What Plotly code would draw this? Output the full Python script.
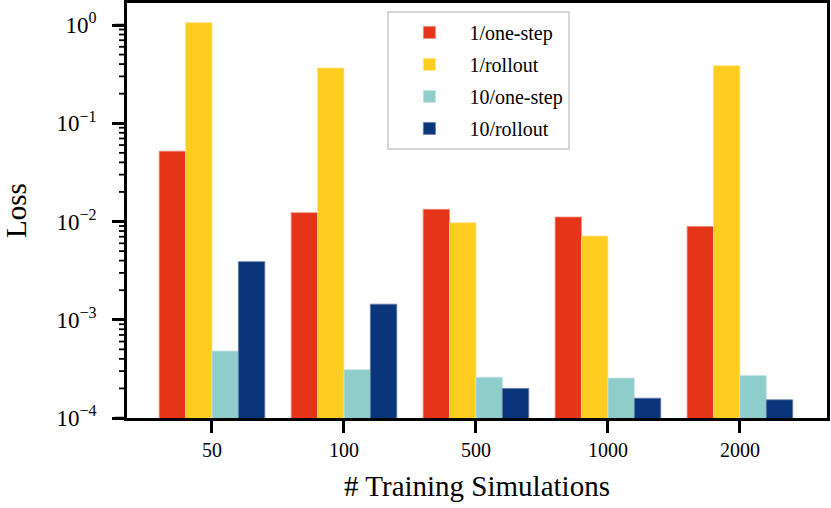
import plotly.graph_objs as go

# number of training simulations
sims = ["50", "100", "500", "1000", "2000"]

# loss values
one_step_1 = [0.052, 0.0123, 0.0133, 0.0111, 0.0089]
rollout_1 = [1.055, 0.365, 0.0097, 0.0071, 0.385]
one_step_10 = [0.00048, 0.00031, 0.00026, 0.000255, 0.00027]
rollout_10 = [0.0039, 0.00144, 0.0002, 0.000159, 0.000153]

series = [
  ("1/one-step", one_step_1, "#E5341A", "#F08A78"),
  ("1/rollout", rollout_1, "#FFCD1F", "#FFE27A"),
  ("10/one-step", one_step_10, "#8ECDCA", "#C3E5E3"),
  ("10/rollout", rollout_10, "#0A357A", "#5F7BA8"),
]

major = [1e-4, 1e-3, 1e-2, 1e-1, 1]
major_text = ["10<sup>\u22124</sup>", "10<sup>\u22123</sup>", "10<sup>\u22122</sup>",
              "10<sup>\u22121</sup>", "10<sup>0</sup>"]
minor = [m * d for d in major[:-1] for m in range(2, 10)]

fig = go.Figure()
for name, vals, color, edge in series:
  fig.add_trace(go.Bar(x=sims, y=vals, name=name, legendgroup=name,
                       marker=dict(color=color, line=dict(color=edge, width=0.8))))

# log tick marks on the left spine (major long, minor short), placed on the y axis
for vals, length, width in [(major, 12, 2.5), (minor, 8, 1.8)]:
  for v in vals:
    fig.add_shape(type="line", xref="paper", yref="y", xsizemode="pixel", xanchor=0,
                  x0=-length, x1=0, y0=v, y1=v, layer="above",
                  line=dict(color="black", width=width))

font = "Liberation Serif, Times New Roman, serif"
fig.update_layout(
  width=831, height=508,
  margin=dict(l=127, r=4, t=3, b=90),
  paper_bgcolor="white", plot_bgcolor="white",
  font=dict(family=font, size=20, color="black"),
  barmode="group", bargap=0.2, bargroupgap=0,
  showlegend=True,
  legend=dict(x=0.372, y=0.981, xanchor="left", yanchor="top",
              bgcolor="white", bordercolor="#d6d6d6", borderwidth=2,
              font=dict(size=20), tracegroupgap=3, itemwidth=70),
  xaxis=dict(
    type="category", range=[-0.644, 4.66], automargin=False,
    showline=True, linecolor="black", linewidth=2.5, mirror=True,
    ticks="outside", ticklen=12, tickwidth=2.5, tickcolor="black",
    tickfont=dict(size=20), showgrid=False, zeroline=False,
    title=dict(text="# Training Simulations", font=dict(size=29), standoff=16),
  ),
  yaxis=dict(
    type="log", range=[-4, 0.224], automargin=False,
    showline=True, linecolor="black", linewidth=2.5, mirror=True,
    tickmode="array", tickvals=major, ticktext=major_text,
    ticks="outside", ticklen=12, tickwidth=2.5, tickcolor="black",
    tickfont=dict(size=23), ticklabelstandoff=11, showgrid=False, zeroline=False,
    title=dict(text="Loss", font=dict(size=29), standoff=22),
  ),
)

# page has a default body margin; drop it so the figure sits at the window corner
fig.write_html("out.html", config={"displayModeBar": False},
               post_script="document.body.style.margin='0';")
